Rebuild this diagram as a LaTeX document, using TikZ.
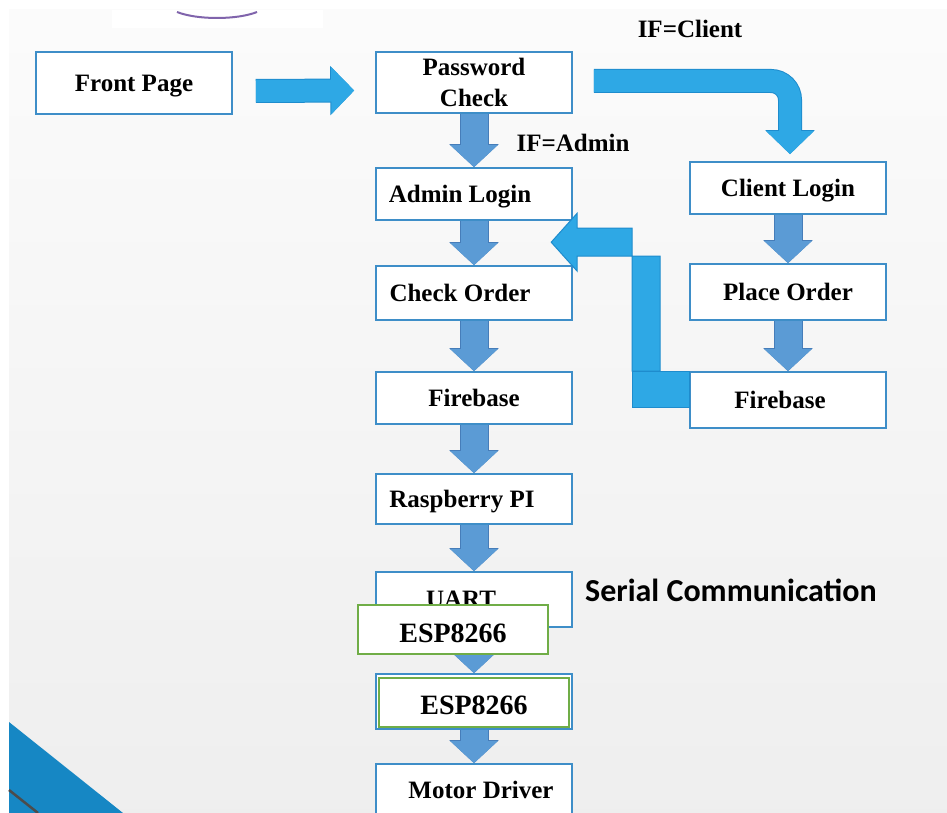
\documentclass[tikz,border=0pt]{standalone}
\usepackage{fontspec}
\setmainfont{Liberation Serif}
\newfontfamily\calibri{Carlito}
\usetikzlibrary{calc}
\usetikzlibrary{arrows.meta,positioning}
\definecolor{boxblue}{RGB}{62,142,200}
\definecolor{flowblue}{RGB}{91,155,213}
\definecolor{flowedge}{RGB}{70,125,185}
\definecolor{skyblue}{RGB}{46,168,229}
\definecolor{skyedge}{RGB}{30,140,205}
\definecolor{espgreen}{RGB}{112,173,71}
\definecolor{cornerblue}{RGB}{22,135,196}
\definecolor{logopurple}{RGB}{128,100,172}

\begin{document}
\begin{tikzpicture}[x=1pt, y=-1pt, font=\fontsize{25}{31}\selectfont\bfseries, every label/.append style={text depth=0pt}]
      \tikzstyle{box}=[rectangle,draw=boxblue,line width=1.6pt,fill=white,align=center,inner sep=0pt,text depth=0pt,minimum width=196pt,minimum height=52pt]
      \tikzstyle{greenbox}=[box,draw=espgreen,minimum width=190pt,minimum height=49pt,font=\fontsize{28}{30}\selectfont\bfseries]
      \tikzstyle{flowarrow}=[flowblue,line width=27pt,-{Triangle[width=46pt,length=22pt]},preaction={draw=flowedge,line width=29pt,-{Triangle[width=48pt,length=23pt]}}]
      \tikzstyle{skyarrow}=[skyblue,line width=22pt,-{Triangle[width=46pt,length=23pt]},preaction={draw=skyedge,line width=24pt,-{Triangle[width=48pt,length=24pt]}}]
      \useasboundingbox (0,0) rectangle (947,813);
      \clip (0,0) rectangle (947,813);
      \fill[white] (0,0) rectangle (947,813);
      \shade[top color=gray!3,bottom color=gray!13] (9,10) rectangle (947,813);
      \fill[white] (112,10) rectangle (323,28);
      \draw[logopurple,line width=2pt] (177,12) .. controls (197,20) and (237,20) .. (257,12);
      \fill[cornerblue] (9,722) -- (123,813) -- (9,813) -- cycle;
      \draw[black!70,line width=2.5pt] (9,790) -- (38,813);

      \node[box,minimum height=62pt] (FP) at (134,83) {Front Page};
      \node[box,minimum height=61pt] (PC) at (474,82.5) {Password\\Check};
      \node[box,label={[xshift=-14pt]center:Admin Login}] (AL) at (474,194) {};
      \node[box,minimum height=54pt,label={[xshift=-14pt]center:Check Order}] (CO) at (474,293) {};
      \node[box] (FB) at (474,398) {Firebase};
      \node[box,minimum height=50pt,label={[xshift=-12pt]center:Raspberry PI}] (RP) at (474,499) {};
      \node[box,minimum height=55pt,label={[xshift=-13pt]center:UART}] (UA) at (474,599.5) {};
      \node[box,minimum height=55pt] (EB) at (474,701.5) {};
      \node[box,label={[xshift=7pt]center:Motor Driver}] (MD) at (474,790) {};
      \node[box] (CL) at (788,188) {Client Login};
      \node[box,minimum height=56pt] (PO) at (788,292) {Place Order};
      \node[box,minimum height=56pt,label={[xshift=-8pt]center:Firebase}] (FC) at (788,400) {};

      \node (IFC) at (690,29) {IF=Client};
      \node (IFA) at (573,143) {IF=Admin};
      \node[font=\calibri\fontsize{32}{35}\selectfont\bfseries] (SC) at (731,590) {Serial Communication};

      \draw[skyarrow] ($(FP.east)+(23,8)$) -- ($(PC.west)+(-21,8)$);
      \draw[skyarrow,rounded corners=19pt] ($(PC.east)+(21,-1.5)$) -| ($(CL.north)+(2,-7)$);
      \filldraw[skyblue,draw=skyedge,line width=1pt] ($(FC.north west)+(-29,0)$) -- ++(0,-115) -- ++(-83,0) -- ++(0,15) -- ++(-26,-29) -- ++(26,-29) -- ++(0,15) -- ++(55,0) -- ++(0,143) -- cycle;
      \filldraw[skyblue,draw=skyedge,line width=1pt] ($(FC.north west)+(-57,0)$) rectangle ($(FC.west)+(0,7)$);

      \draw[flowarrow] (PC.south) -- (AL.north);
      \draw[flowarrow] (AL.south) -- (CO.north);
      \draw[flowarrow] (CO.south) -- (FB.north);
      \draw[flowarrow] (FB.south) -- (RP.north);
      \draw[flowarrow] (RP.south) -- (UA.north);
      \draw[flowarrow] (UA.south) -- (EB.north);
      \draw[flowarrow] (EB.south) -- (MD.north);
      \draw[flowarrow] (CL.south) -- (PO.north);
      \draw[flowarrow] (PO.south) -- (FC.north);

      \node[greenbox,label={[yshift=-3.5pt,font=\fontsize{28}{30}\selectfont\bfseries]center:ESP8266}] (ES) at (453,629.5) {};
      \node[greenbox,label={[yshift=-3pt,font=\fontsize{28}{30}\selectfont\bfseries]center:ESP8266}] (EI) at (474,702.5) {};

    \end{tikzpicture}
\end{document}
